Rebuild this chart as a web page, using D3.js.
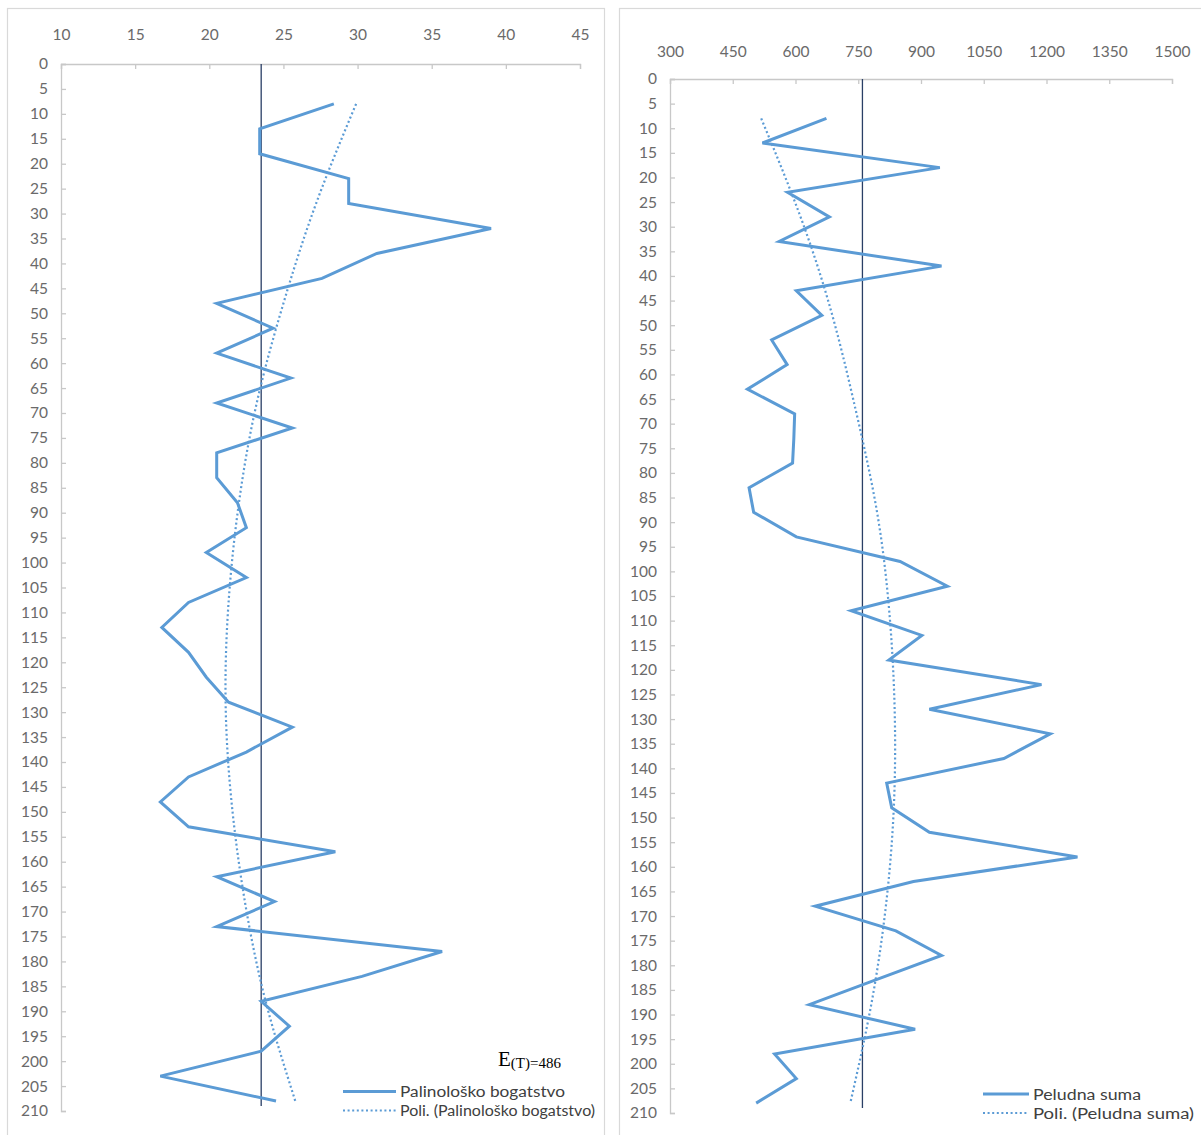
<!DOCTYPE html>
<html>
<head>
<meta charset="utf-8">
<script src="https://cdn.jsdelivr.net/npm/d3@7"></script>
<style>
  html, body { margin: 0; padding: 0; background: #ffffff; }
  svg { display: block; }
</style>
</head>
<body>
<script>
// ---------- DATA ----------
const depths = [8, 13, 18, 23, 28, 33, 38, 43, 48, 53, 58, 63, 68, 73, 78, 83, 88, 93, 98, 103,
                108, 113, 118, 123, 128, 133, 138, 143, 148, 153, 158, 163, 168, 173, 178, 183,
                188, 193, 198, 203, 208];
const richness = [28.4, 23.4, 23.4, 29.4, 29.4, 39.0, 31.3, 27.6, 20.5, 24.3, 20.5, 25.5, 20.5,
                  25.6, 20.5, 20.5, 21.9, 22.5, 19.8, 22.5, 18.6, 16.8, 18.6, 19.8, 21.3, 25.6,
                  22.5, 18.6, 16.7, 18.6, 28.5, 20.5, 24.4, 20.5, 35.7, 30.3, 23.5, 25.4, 23.5,
                  16.7, 24.5];
const pollenSum = [674, 521, 945, 581, 681, 561, 949, 602, 663, 543, 580, 485, 598, 596, 593,
                   489, 500, 602, 850, 963, 733, 902, 823, 1188, 920, 1209, 1098, 818, 830, 920,
                   1274, 882, 647, 840, 949, 790, 633, 886, 550, 602, 506];
const trendDepths = [8, 28, 48, 68, 88, 108, 128, 148, 168, 188, 208];
const richnessTrend = [29.9, 27.2, 25.0, 23.2, 22.0, 21.3, 21.1, 21.5, 22.4, 23.8, 25.8];
const pollenTrend = [518, 612, 688, 746, 795, 824, 837, 835, 816, 781, 731];
const richnessMean = 23.5;
const pollenMean = 760;
const meanDepthSpan = [0, 209];
const depthTicks = [0,5,10,15,20,25,30,35,40,45,50,55,60,65,70,75,80,85,90,95,100,105,110,115,
                    120,125,130,135,140,145,150,155,160,165,170,175,180,185,190,195,200,205,210];
const richnessTicks = [10, 15, 20, 25, 30, 35, 40, 45];
const pollenTicks = [300, 450, 600, 750, 900, 1050, 1200, 1350, 1500];
const leftLegend = ["Palinološko bogatstvo", "Poli. (Palinološko bogatstvo)"];
const rightLegend = ["Peludna suma", "Poli. (Peludna suma)"];
const annotation = { main: "E", sub: "(T)=486" };

// ---------- STYLE ----------
const W = 1201, H = 1135;
const seriesColor = "#5b9bd5";
const meanColor = "#2a3f66";
const axisColor = "#c8c8c8";
const textColor = "#6a6a6a";
const font = "Lato, 'Open Sans', sans-serif";

const svg = d3.select("body").append("svg")
  .attr("width", W).attr("height", H)
  .style("background", "#fff");

// panel borders
svg.append("rect").attr("x", 7.5).attr("y", 8.5).attr("width", 597).attr("height", 1140)
  .attr("fill", "none").attr("stroke", "#d9d9d9").attr("stroke-width", 1.2);
svg.append("rect").attr("x", 619.5).attr("y", 8.5).attr("width", 600).attr("height", 1140)
  .attr("fill", "none").attr("stroke", "#d9d9d9").attr("stroke-width", 1.2);

function drawPanel(cfg) {
  const g = svg.append("g");
  const x = d3.scaleLinear().domain(cfg.xDomain).range(cfg.xRange);
  const y = d3.scaleLinear().domain([0, 210]).range(cfg.yRange);

  // top axis
  const xAxis = d3.axisTop(x).tickValues(cfg.xTicks).tickSize(-5).tickPadding(cfg.xLabelPad)
    .tickFormat(d3.format("d"));
  const gx = g.append("g").attr("transform", `translate(0,${cfg.yRange[0]})`).call(xAxis);
  gx.select(".domain").attr("stroke", axisColor).attr("stroke-width", 1.3);
  gx.selectAll(".tick line").attr("stroke", axisColor).attr("stroke-width", 1.3);
  gx.selectAll(".tick text").attr("fill", textColor).attr("font-family", font)
    .attr("font-size", 15.5);

  // left axis
  const yAxis = d3.axisLeft(y).tickValues(depthTicks).tickSize(-5).tickPadding(13)
    .tickFormat(d3.format("d"));
  const gy = g.append("g").attr("transform", `translate(${cfg.xRange[0]},0)`).call(yAxis);
  gy.select(".domain").attr("stroke", axisColor).attr("stroke-width", 1.3);
  gy.selectAll(".tick line").attr("stroke", axisColor).attr("stroke-width", 1.3);
  gy.selectAll(".tick text").attr("fill", textColor).attr("font-family", font)
    .attr("font-size", 15.5);

  // mean line
  g.append("path")
    .attr("d", d3.line().x(() => x(cfg.mean)).y(d => y(d))(meanDepthSpan))
    .attr("stroke", meanColor).attr("stroke-width", 1.3).attr("fill", "none");

  // trend line
  const trendPts = trendDepths.map((d, i) => [cfg.trend[i], d]);
  g.append("path")
    .attr("d", d3.line().x(d => x(d[0])).y(d => y(d[1])).curve(d3.curveNatural)(trendPts))
    .attr("stroke", seriesColor).attr("stroke-width", 2.2).attr("fill", "none")
    .attr("stroke-dasharray", "2,2.6");

  // data line
  const pts = depths.map((d, i) => [cfg.values[i], d]);
  g.append("path")
    .attr("d", d3.line().x(d => x(d[0])).y(d => y(d[1]))(pts))
    .attr("stroke", seriesColor).attr("stroke-width", 3).attr("fill", "none")
    .attr("stroke-linejoin", "miter");

  // legend
  const lg = g.append("g");
  lg.append("line").attr("x1", cfg.legX0).attr("x2", cfg.legX1)
    .attr("y1", cfg.legY[0]).attr("y2", cfg.legY[0])
    .attr("stroke", seriesColor).attr("stroke-width", 3);
  lg.append("line").attr("x1", cfg.legX0).attr("x2", cfg.legX1)
    .attr("y1", cfg.legY[1]).attr("y2", cfg.legY[1])
    .attr("stroke", seriesColor).attr("stroke-width", 2.2).attr("stroke-dasharray", "2,2.6");
  cfg.legend.forEach((t, i) => {
    lg.append("text").attr("x", cfg.legX1 + 4).attr("y", cfg.legY[i] + 5.5)
      .attr("font-family", font).attr("font-size", 15.5).attr("fill", "#404040")
      .attr("textLength", cfg.legW[i]).attr("lengthAdjust", "spacingAndGlyphs").text(t);
  });
}

drawPanel({
  xDomain: [10, 45], xRange: [61, 580], yRange: [64, 1111], xTicks: richnessTicks,
  xLabelPad: 24, values: richness, trend: richnessTrend, mean: richnessMean,
  legend: leftLegend, legX0: 343, legX1: 396, legY: [1091.5, 1110.5], legW: [165, 195]
});
drawPanel({
  xDomain: [300, 1500], xRange: [670, 1172], yRange: [79, 1113], xTicks: pollenTicks,
  xLabelPad: 22, values: pollenSum, trend: pollenTrend, mean: pollenMean,
  legend: rightLegend, legX0: 983, legX1: 1029, legY: [1094, 1113], legW: [108, 161]
});

// annotation E(T)=486
const ann = svg.append("text").attr("x", 498).attr("y", 1066)
  .attr("font-family", "'Liberation Serif', 'Times New Roman', serif").attr("fill", "#000");
ann.append("tspan").attr("font-size", 21).text(annotation.main);
ann.append("tspan").attr("font-size", 15).attr("dy", 2).text(annotation.sub);
</script>
</body>
</html>
